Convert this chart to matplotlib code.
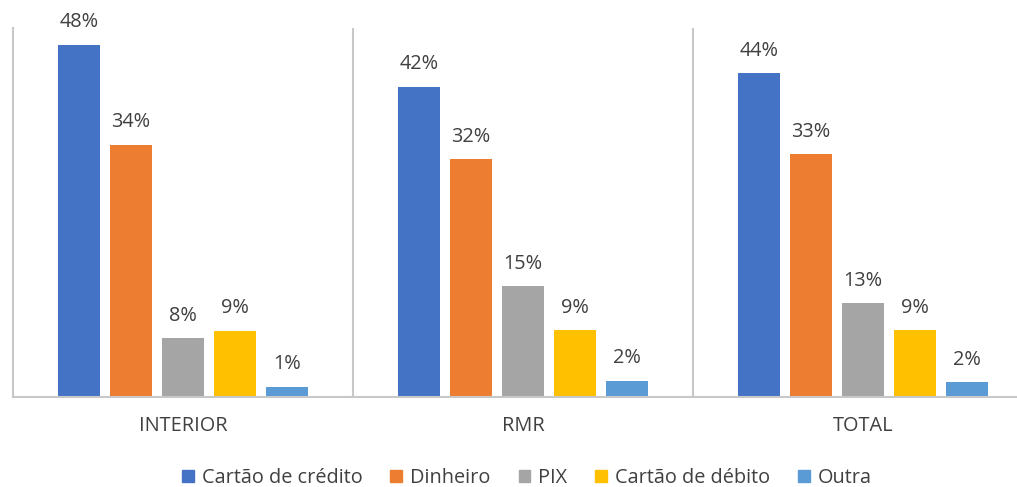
import matplotlib.pyplot as plt
import numpy as np
from matplotlib.patches import Patch

# Données du graphique
categories = ["INTERIOR", "RMR", "TOTAL"]
series = ["Cartão de crédito", "Dinheiro", "PIX", "Cartão de débito", "Outra"]
credito = [48, 42.3, 44.1]
dinheiro = [34.4, 32.4, 33.1]
pix = [8.0, 15.1, 12.8]
debito = [9.0, 9.1, 9.1]
outra = [1.4, 2.2, 2.0]
valeurs = [credito, dinheiro, pix, debito, outra]
couleurs = ["#4472C4", "#ED7D31", "#A5A5A5", "#FFC000", "#5B9BD5"]

plt.rcParams['font.family'] = ['Open Sans', 'DejaVu Sans']
TEXTE = "#404040"
GRILLE = "#C8C8C8"
TAILLE = 14.3

fig = plt.figure(figsize=(10.17, 4.87), dpi=100)
ax = fig.add_axes([13 / 1017, 90 / 487, 1020 / 1017, 369 / 487])

x = np.arange(len(categories))
pas = 0.153
largeur = 0.124

for i, (nom, vals, c) in enumerate(zip(series, valeurs, couleurs)):
    pos = x + (i - 2) * pas
    barres = ax.bar(pos, vals, width=largeur, color=c, label=nom)
    for b, v in zip(barres, vals):
        ax.annotate(f"{v:.0f}%", (b.get_x() + b.get_width() / 2, v),
                    xytext=(0, 9), textcoords="offset points",
                    ha="center", va="bottom", fontsize=TAILLE, color=TEXTE)

ax.set_xlim(-0.5, 2.5)
ax.set_ylim(0, 50.3)

# séparateurs entre catégories
for s in [0.5, 1.5]:
    ax.axvline(s, color=GRILLE, lw=1.5)

for cote in ["top", "right"]:
    ax.spines[cote].set_visible(False)
ax.spines["left"].set_color(GRILLE)
ax.spines["left"].set_linewidth(1.5)
ax.spines["bottom"].set_color(GRILLE)
ax.spines["bottom"].set_linewidth(1.5)

ax.set_yticks([])
ax.set_xticks(x)
ax.set_xticklabels(categories, fontsize=TAILLE, color=TEXTE)
ax.tick_params(axis="x", length=0, pad=14)

poignees = [Patch(color=c) for c in couleurs]
fig.legend(poignees, series, loc="center", bbox_to_anchor=(527 / 1017, 9 / 487),
           ncol=5, frameon=False, fontsize=TAILLE, handlelength=0.6, handleheight=0.6,
           handletextpad=0.4, columnspacing=1.4, labelcolor=TEXTE)

fig.savefig("out.png", dpi=100)
